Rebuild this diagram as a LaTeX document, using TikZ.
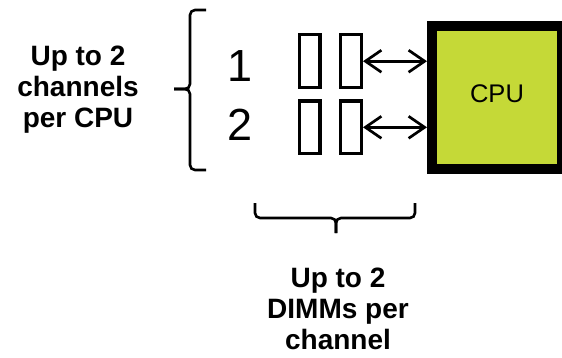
\documentclass[tikz,border=0pt]{standalone}
\usepackage{fontspec}
\setmainfont{Liberation Sans}
\usetikzlibrary{arrows.meta}
\definecolor{cpugreen}{RGB}{197,217,55}
\tikzset{
  dimm/.style={draw, line width=3.2pt, minimum width=20.8pt, minimum height=52.8pt, inner sep=0pt},
  cpubox/.style={draw, line width=10pt, fill=cpugreen, minimum width=130pt, minimum height=143pt, inner sep=0pt},
  cpufont/.style={font=\fontsize{25.5}{28}\selectfont},
  bigtext/.style={font=\fontsize{28}{31}\selectfont\bfseries, align=center, inner sep=0pt},
  digit/.style={font=\fontsize{45}{48}\selectfont, inner sep=0pt, anchor=base},
  memarrow/.style={line width=2.7pt, {Straight Barb[length=16pt,width=22pt]}-{Straight Barb[length=16pt,width=22pt]}},
  bracket/.style={line width=2.6pt, rounded corners=5pt}
}
\begin{document}
\begin{tikzpicture}[x=1pt,y=-1pt]
\useasboundingbox (0,0) rectangle (562,357);
% channel labels
\node[bigtext] (chan) at (78,89.7) {Up to 2\\channels\\per CPU};
\node[bigtext] (dimmtext) at (338,309) {Up to 2\\DIMMs per\\channel};
% digits
\node[digit] (n1) at (240,81.7) {1};
\node[digit] (n2) at (240,140) {2};
% DIMMs
\node[dimm] (d11) at (309.5,61.2) {};
\node[dimm] (d12) at (351,61.2) {};
\node[dimm] (d21) at (309.5,127.3) {};
\node[dimm] (d22) at (351,127.3) {};
% CPU
\node[cpubox, label={[cpufont,yshift=3.5pt]center:CPU}] (cpu) at (497,97.5) {};
% arrows
\draw[memarrow] (d12.east) -- (d12.east -| cpu.west);
\draw[memarrow] (d22.east) -- (d22.east -| cpu.west);
% left brace
\draw[bracket] (206,10) -- (190,10) -- (190,89) -- (174,89);
\draw[bracket] (174,89) -- (190,89) -- (190,170) -- (206,170);
% bottom brace
\draw[bracket] (255,203) -- (255,218) -- (336,218) -- (336,233);
\draw[bracket] (336,233) -- (336,218) -- (415,218) -- (415,203);
\end{tikzpicture}
\end{document}
